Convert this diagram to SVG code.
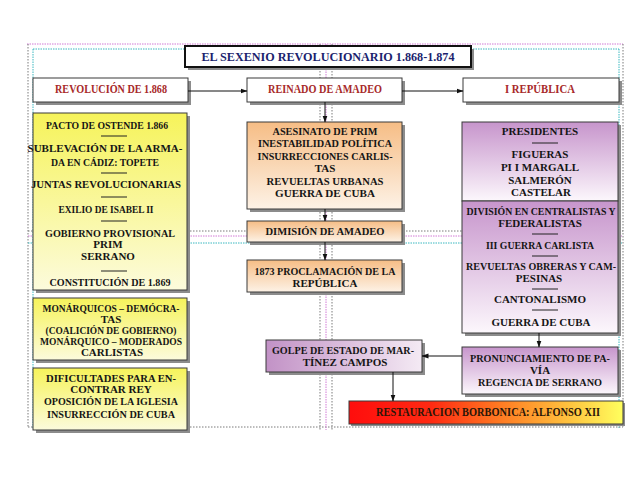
<svg xmlns="http://www.w3.org/2000/svg" width="638" height="479" viewBox="0 0 638 479">
<style>
.t{font-family:"Liberation Serif","Times New Roman",serif;font-weight:bold;font-size:11px;text-anchor:middle;fill:#151515}
.top{font-size:12px;fill:#a82a2a}
.title{font-size:13px;fill:#1c1f6e}
.bx{stroke:#3a3a3a;stroke-width:1}
.sh{fill:#8c8c8c}
.sep{stroke:#222;stroke-width:1}
.g{fill:none;stroke-width:1}
.gd{stroke:#7a7a7a;stroke-dasharray:1.5 1.5}
.gc{stroke:#3ab8c0;stroke-dasharray:1.5 1}
.gm{stroke:#d27ad6;stroke-dasharray:1.5 1}
.c{fill:none;stroke:#111;stroke-width:1;marker-end:url(#ah)}
</style>
<defs>
<marker id="ah" markerWidth="7" markerHeight="6" refX="6.5" refY="3" orient="auto" markerUnits="userSpaceOnUse">
<path d="M0,0.5 L7,3 L0,5.5 Z" fill="#111"/>
</marker>
<linearGradient id="gy" x1="0" y1="0" x2="0" y2="1"><stop offset="0" stop-color="#f6f35a"/><stop offset="1" stop-color="#fcfbdc"/></linearGradient>
<linearGradient id="go" x1="0" y1="0" x2="0" y2="1"><stop offset="0" stop-color="#f6bd85"/><stop offset="1" stop-color="#fdf2e6"/></linearGradient>
<linearGradient id="gp" x1="0" y1="0" x2="0" y2="1"><stop offset="0" stop-color="#c795cc"/><stop offset="1" stop-color="#fcf7fc"/></linearGradient>
<linearGradient id="gph" x1="0" y1="0" x2="1" y2="0"><stop offset="0" stop-color="#c292c6"/><stop offset="1" stop-color="#f4eaf4"/></linearGradient>
<linearGradient id="gr" x1="0" y1="0" x2="1" y2="0"><stop offset="0" stop-color="#ff0d0d"/><stop offset="0.3" stop-color="#ff2a12"/><stop offset="0.55" stop-color="#ff7a22"/><stop offset="0.8" stop-color="#ffc23e"/><stop offset="1" stop-color="#ffff5e"/></linearGradient>
</defs>
<rect width="638" height="479" fill="#ffffff"/>
<g id="guides">
<line class="g gm" x1="27" y1="44" x2="623" y2="44"/>
<line class="g gc" x1="33" y1="49" x2="619" y2="49"/>
<line class="g gd" x1="28" y1="44" x2="28" y2="428"/>
<line class="g gc" x1="33" y1="49" x2="33" y2="428"/>
<line class="g gc" x1="619" y1="49" x2="619" y2="428"/>
<line class="g gd" x1="623" y1="44" x2="623" y2="428"/>
<line class="g gd" x1="28" y1="231" x2="623" y2="231"/>
<line class="g gm" x1="28" y1="236" x2="623" y2="236"/>
<line class="g gc" x1="28" y1="243" x2="623" y2="243"/>
<line class="g gd" x1="28" y1="427" x2="623" y2="427"/>
<line class="g gd" x1="320" y1="44" x2="320" y2="430"/>
<line class="g gm" x1="326" y1="44" x2="326" y2="430"/>
<line class="g gd" x1="332" y1="44" x2="332" y2="430"/>
</g>
<g id="title">
<rect class="sh" x="188" y="49" width="286" height="21"/>
<rect x="185" y="46" width="286" height="21" fill="#fff" stroke="#111" stroke-width="2"/>
<text class="t title" x="328" y="61" textLength="253" lengthAdjust="spacingAndGlyphs">EL SEXENIO REVOLUCIONARIO 1.868-1.874</text>
</g>
<g id="revolucion">
<rect class="sh" x="36" y="81" width="155" height="24"/>
<rect class="bx" x="33" y="78" width="155" height="24" fill="#fff"/>
<text class="t top" x="111" y="93" textLength="112" lengthAdjust="spacingAndGlyphs">REVOLUCIÓN DE 1.868</text>
</g>
<g id="reinado">
<rect class="sh" x="250" y="81" width="155" height="24"/>
<rect class="bx" x="247" y="78" width="155" height="24" fill="#fff"/>
<text class="t top" x="325" y="93" textLength="114" lengthAdjust="spacingAndGlyphs">REINADO DE AMADEO</text>
</g>
<g id="republica">
<rect class="sh" x="466" y="81" width="156" height="24"/>
<rect class="bx" x="463" y="78" width="156" height="24" fill="#fff"/>
<text class="t top" x="540" y="93" textLength="70" lengthAdjust="spacingAndGlyphs">I REPÚBLICA</text>
</g>
<g id="revolucion-hechos">
<rect class="sh" x="36" y="116" width="154" height="177"/>
<rect class="bx" x="33" y="113" width="154" height="177" fill="url(#gy)"/>
<text class="t" x="107" y="129" textLength="122" lengthAdjust="spacingAndGlyphs">PACTO DE OSTENDE 1.866</text>
<line class="sep" x1="101" y1="136" x2="127" y2="136"/>
<text class="t" x="105" y="152" textLength="155" lengthAdjust="spacingAndGlyphs">SUBLEVACIÓN DE LA ARMA-</text>
<text class="t" x="105" y="166" textLength="108" lengthAdjust="spacingAndGlyphs">DA EN CÁDIZ: TOPETE</text>
<line class="sep" x1="101" y1="173" x2="127" y2="173"/>
<text class="t" x="106" y="188" textLength="150" lengthAdjust="spacingAndGlyphs">JUNTAS REVOLUCIONARIAS</text>
<line class="sep" x1="101" y1="197" x2="127" y2="197"/>
<text class="t" x="106" y="213" textLength="95" lengthAdjust="spacingAndGlyphs">EXILIO DE ISABEL II</text>
<line class="sep" x1="101" y1="221" x2="127" y2="221"/>
<text class="t" x="110" y="237" textLength="130" lengthAdjust="spacingAndGlyphs">GOBIERNO PROVISIONAL</text>
<text class="t" x="108" y="248">PRIM</text>
<text class="t" x="108" y="260">SERRANO</text>
<line class="sep" x1="101" y1="271" x2="127" y2="271"/>
<text class="t" x="110" y="286" textLength="121" lengthAdjust="spacingAndGlyphs">CONSTITUCIÓN DE 1.869</text>
</g>
<g id="partidos">
<rect class="sh" x="36" y="301" width="154" height="62"/>
<rect class="bx" x="33" y="298" width="154" height="62" fill="url(#gy)"/>
<text class="t" x="111" y="312" textLength="137" lengthAdjust="spacingAndGlyphs">MONÁRQUICOS – DEMÓCRA-</text>
<text class="t" x="111" y="323">TAS</text>
<text class="t" x="111" y="334" textLength="131" lengthAdjust="spacingAndGlyphs">(COALICIÓN DE GOBIERNO)</text>
<text class="t" x="111" y="345" textLength="142" lengthAdjust="spacingAndGlyphs">MONÁRQUICO – MODERADOS</text>
<text class="t" x="112" y="356">CARLISTAS</text>
</g>
<g id="dificultades">
<rect class="sh" x="36" y="371" width="154" height="62"/>
<rect class="bx" x="33" y="368" width="154" height="62" fill="url(#gy)"/>
<text class="t" x="111" y="382" textLength="130" lengthAdjust="spacingAndGlyphs">DIFICULTADES PARA EN-</text>
<text class="t" x="111" y="393">CONTRAR REY</text>
<text class="t" x="111" y="405" textLength="134" lengthAdjust="spacingAndGlyphs">OPOSICIÓN DE LA IGLESIA</text>
<text class="t" x="111" y="418" textLength="128" lengthAdjust="spacingAndGlyphs">INSURRECCIÓN DE CUBA</text>
</g>
<g id="asesinato">
<rect class="sh" x="250" y="125" width="155" height="87"/>
<rect class="bx" x="247" y="122" width="155" height="87" fill="url(#go)"/>
<text class="t" x="325" y="135" textLength="105" lengthAdjust="spacingAndGlyphs">ASESINATO DE PRIM</text>
<text class="t" x="325" y="147" textLength="134" lengthAdjust="spacingAndGlyphs">INESTABILIDAD POLÍTICA</text>
<text class="t" x="325" y="160" textLength="135" lengthAdjust="spacingAndGlyphs">INSURRECCIONES CARLIS-</text>
<text class="t" x="325" y="172">TAS</text>
<text class="t" x="325" y="185" textLength="117" lengthAdjust="spacingAndGlyphs">REVUELTAS URBANAS</text>
<text class="t" x="325" y="197" textLength="100" lengthAdjust="spacingAndGlyphs">GUERRA DE CUBA</text>
</g>
<g id="dimision">
<rect class="sh" x="250" y="224" width="155" height="21"/>
<rect class="bx" x="247" y="221" width="155" height="21" fill="url(#go)"/>
<text class="t" x="325" y="235" textLength="119" lengthAdjust="spacingAndGlyphs">DIMISIÓN DE AMADEO</text>
</g>
<g id="proclamacion">
<rect class="sh" x="250" y="263" width="155" height="32"/>
<rect class="bx" x="247" y="260" width="155" height="32" fill="url(#go)"/>
<text class="t" x="325" y="275" textLength="141" lengthAdjust="spacingAndGlyphs">1873 PROCLAMACIÓN DE LA</text>
<text class="t" x="325" y="287">REPÚBLICA</text>
</g>
<g id="republica-hechos">
<rect class="sh" x="465" y="125" width="156" height="211"/>
<rect class="bx" x="462" y="122" width="156" height="79" fill="url(#gp)"/>
<rect class="bx" x="462" y="201" width="156" height="132" fill="url(#gp)"/>
<text class="t" x="540" y="135">PRESIDENTES</text>
<line class="sep" x1="532" y1="143" x2="558" y2="143"/>
<text class="t" x="540" y="158">FIGUERAS</text>
<text class="t" x="540" y="171">PI I MARGALL</text>
<text class="t" x="540" y="184">SALMERÓN</text>
<text class="t" x="541" y="196">CASTELAR</text>
<text class="t" x="541" y="215" textLength="149" lengthAdjust="spacingAndGlyphs">DIVISIÓN EN CENTRALISTAS Y</text>
<text class="t" x="540" y="227">FEDERALISTAS</text>
<line class="sep" x1="532" y1="234" x2="558" y2="234"/>
<text class="t" x="540" y="249" textLength="108" lengthAdjust="spacingAndGlyphs">III GUERRA CARLISTA</text>
<line class="sep" x1="532" y1="256" x2="558" y2="256"/>
<text class="t" x="541" y="270" textLength="150" lengthAdjust="spacingAndGlyphs">REVUELTAS OBRERAS Y CAM-</text>
<text class="t" x="539" y="282">PESINAS</text>
<line class="sep" x1="532" y1="289" x2="558" y2="289"/>
<text class="t" x="540" y="303">CANTONALISMO</text>
<line class="sep" x1="532" y1="310" x2="558" y2="310"/>
<text class="t" x="541" y="326">GUERRA DE CUBA</text>
</g>
<g id="pronunciamiento">
<rect class="sh" x="465" y="350" width="156" height="47"/>
<rect class="bx" x="462" y="347" width="156" height="47" fill="url(#gp)"/>
<text class="t" x="540" y="362" textLength="140" lengthAdjust="spacingAndGlyphs">PRONUNCIAMIENTO DE PA-</text>
<text class="t" x="540" y="374">VÍA</text>
<text class="t" x="540" y="386" textLength="124" lengthAdjust="spacingAndGlyphs">REGENCIA DE SERRANO</text>
</g>
<g id="golpe">
<rect class="sh" x="269" y="343" width="156" height="32"/>
<rect class="bx" x="266" y="340" width="156" height="32" fill="url(#gph)"/>
<text class="t" x="343" y="354" textLength="142" lengthAdjust="spacingAndGlyphs">GOLPE DE ESTADO DE MAR-</text>
<text class="t" x="345" y="366">TÍNEZ CAMPOS</text>
</g>
<g id="restauracion">
<rect class="sh" x="351" y="403" width="274" height="23"/>
<rect class="bx" x="349" y="401" width="274" height="23" fill="url(#gr)"/>
<text class="t" x="488" y="416" style="font-size:12px;fill:#2a1608" textLength="224" lengthAdjust="spacingAndGlyphs">RESTAURACION BORBONICA:  ALFONSO XII</text>
</g>
<g id="connectors">
<path class="c" d="M188,91 H247"/>
<path class="c" d="M402,91 H463"/>
<path class="c" d="M325,102 V122"/>
<path class="c" d="M325,209 V221"/>
<path class="c" d="M325,242 V260"/>
<path class="c" d="M539,333 V347"/>
<path class="c" d="M462,356 H422"/>
<path class="c" d="M393,372 V401"/>
</g>
</svg>
